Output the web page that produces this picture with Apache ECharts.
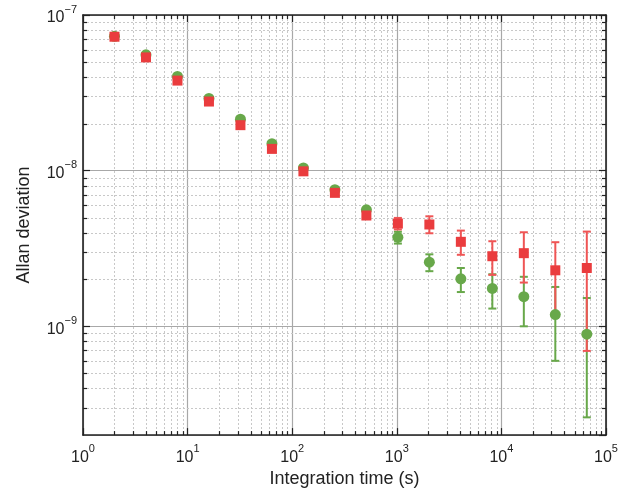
<!DOCTYPE html>
<html>
<head>
<meta charset="utf-8">
<script src="https://cdn.jsdelivr.net/npm/echarts@6/dist/echarts.min.js"></script>
<style>
html,body{margin:0;padding:0;background:#fff;}
#chart{width:634px;height:493px;}
</style>
</head>
<body>
<div id="chart"></div>
<script>
// Integration times (s)
const tau = [2, 4, 8, 16, 32, 64, 128, 256, 512, 1024, 2048, 4096, 8192, 16384, 32768, 65536];
// Green series (circles)
const greenVal = [7.3e-8, 5.55e-8, 4.03e-8, 2.91e-8, 2.14e-8, 1.49e-8, 1.04e-8, 7.55e-9, 5.6e-9, 3.73e-9, 2.58e-9, 2.02e-9, 1.75e-9, 1.55e-9, 1.19e-9, 8.9e-10];
const greenLow = [null, null, null, null, null, null, null, null, null, 3.4e-9, 2.26e-9, 1.66e-9, 1.30e-9, 1.0e-9, 6.0e-10, 2.6e-10];
const greenHigh = [null, null, null, null, null, null, null, null, null, 4.05e-9, 2.9e-9, 2.37e-9, 2.16e-9, 2.08e-9, 1.79e-9, 1.52e-9];
// Red series (squares)
const redVal = [7.25e-8, 5.34e-8, 3.79e-8, 2.78e-8, 1.96e-8, 1.38e-8, 9.9e-9, 7.2e-9, 5.15e-9, 4.57e-9, 4.51e-9, 3.49e-9, 2.82e-9, 2.95e-9, 2.29e-9, 2.37e-9];
const redLow = [null, null, null, null, null, null, null, null, null, 4.19e-9, 3.96e-9, 2.88e-9, 2.14e-9, 1.91e-9, 1.15e-9, 6.95e-10];
const redHigh = [null, null, null, null, null, null, null, null, null, 4.97e-9, 5.09e-9, 4.12e-9, 3.52e-9, 4.02e-9, 3.47e-9, 4.06e-9];

// Axis ranges
const xMin = 1, xMax = 1e5;
const yMin = 2e-10, yMax = 1e-7;
const xDecades = [1, 10, 100, 1000, 10000];
const yDecades = [1e-10, 1e-9, 1e-8];
const minorMult = [2, 3, 4, 5, 6, 7, 8, 9];

const GREEN = '#68a84a';
const RED = '#ea3c3e';
const FONT = 'Liberation Sans, Arial, sans-serif';

const minorX = [];
xDecades.forEach(d => minorMult.forEach(m => { const v = d * m; if (v > xMin && v < xMax) minorX.push(v); }));
const minorY = [];
yDecades.forEach(d => minorMult.forEach(m => { const v = d * m; if (v > yMin * 1.0001 && v < yMax) minorY.push(v); }));

function supFmt(value) {
  const e = Math.round(Math.log10(value));
  if (Math.abs(Math.log10(value) - e) > 1e-6) return '';
  return '{b|10}{s|' + (e < 0 ? '\u2212' + (-e) : e) + '}';
}
const richLbl = {
  b: { fontSize: 16, fontFamily: FONT, color: '#222', lineHeight: 22, verticalAlign: 'bottom' },
  s: { fontSize: 11, fontFamily: FONT, color: '#222', lineHeight: 22, verticalAlign: 'top', padding: [0, 0, 10, 0] }
};

function errData(vals, lo, hi) {
  const out = [];
  for (let i = 0; i < tau.length; i++) if (lo[i] != null) out.push([tau[i], lo[i], hi[i]]);
  return out;
}

function errRender(color, width) {
  return function (params, api) {
    const x = api.value(0);
    const p1 = api.coord([x, api.value(1)]);
    const p2 = api.coord([x, api.value(2)]);
    const cap = 4;
    const st = { stroke: color, lineWidth: width };
    return {
      type: 'group',
      children: [
        { type: 'line', shape: { x1: p1[0], y1: p1[1], x2: p2[0], y2: p2[1] }, style: st },
        { type: 'line', shape: { x1: p1[0] - cap, y1: p1[1], x2: p1[0] + cap, y2: p1[1] }, style: st },
        { type: 'line', shape: { x1: p2[0] - cap, y1: p2[1], x2: p2[0] + cap, y2: p2[1] }, style: st }
      ]
    };
  };
}

function minorRender(params, api) {
  const cs = params.coordSys;
  const L = cs.x, T = cs.y, R = cs.x + cs.width, B = cs.y + cs.height;
  const children = [];
  const gridStyle = { stroke: '#c8c8c8', lineWidth: 1, lineDash: [2, 2] };
  const tickStyle = { stroke: '#222', lineWidth: 1.2 };
  minorX.forEach(v => {
    const x = Math.round(api.coord([v, 1e-8])[0]) + 0.5;
    children.push({ type: 'line', shape: { x1: x, y1: T, x2: x, y2: B }, style: gridStyle });
    children.push({ type: 'line', shape: { x1: x, y1: B, x2: x, y2: B - 4 }, style: tickStyle });
    children.push({ type: 'line', shape: { x1: x, y1: T, x2: x, y2: T + 4 }, style: tickStyle });
  });
  minorY.forEach(v => {
    const y = Math.round(api.coord([10, v])[1]) + 0.5;
    children.push({ type: 'line', shape: { x1: L, y1: y, x2: R, y2: y }, style: gridStyle });
    children.push({ type: 'line', shape: { x1: L, y1: y, x2: L + 4, y2: y }, style: tickStyle });
    children.push({ type: 'line', shape: { x1: R, y1: y, x2: R - 4, y2: y }, style: tickStyle });
  });
  return { type: 'group', children: children };
}

const axisLineStyle = { color: '#222', width: 1.6 };
const chart = echarts.init(document.getElementById('chart'), null, { renderer: 'canvas' });
chart.setOption({
  animation: false,
  backgroundColor: '#fff',
  grid: { left: 83, right: 28, top: 15, bottom: 57, containLabel: false },
  xAxis: [
    {
      type: 'log', logBase: 10, min: xMin, max: xMax, position: 'bottom',
      name: 'Integration time (s)', nameLocation: 'middle', nameGap: 33,
      nameTextStyle: { fontSize: 18, color: '#222', fontFamily: FONT },
      axisLine: { show: true, onZero: false, lineStyle: axisLineStyle },
      axisTick: { show: true, inside: true, length: 7, lineStyle: { color: '#222', width: 1.2 } },
      axisLabel: { formatter: supFmt, rich: richLbl, margin: 8, showMinLabel: true, showMaxLabel: true },
      splitLine: { show: true, lineStyle: { color: '#a8a8a8', width: 1.2 } },
      minorTick: { show: false }
    },
    {
      type: 'log', logBase: 10, min: xMin, max: xMax, position: 'top',
      axisLine: { show: true, onZero: false, lineStyle: axisLineStyle },
      axisTick: { show: true, inside: true, length: 7, lineStyle: { color: '#222', width: 1.2 } },
      axisLabel: { show: false }, splitLine: { show: false }
    }
  ],
  yAxis: [
    {
      type: 'log', logBase: 10, min: yMin, max: yMax, position: 'left',
      name: 'Allan deviation', nameLocation: 'middle', nameGap: 50,
      nameTextStyle: { fontSize: 18, color: '#222', fontFamily: FONT },
      axisLine: { show: true, onZero: false, lineStyle: axisLineStyle },
      axisTick: { show: true, inside: true, length: 7, lineStyle: { color: '#222', width: 1.2 } },
      axisLabel: { formatter: supFmt, rich: richLbl, margin: 6, showMinLabel: false },
      splitLine: { show: true, lineStyle: { color: '#a8a8a8', width: 1.2 } }
    },
    {
      type: 'log', logBase: 10, min: yMin, max: yMax, position: 'right',
      axisLine: { show: true, onZero: false, lineStyle: axisLineStyle },
      axisTick: { show: true, inside: true, length: 7, lineStyle: { color: '#222', width: 1.2 } },
      axisLabel: { show: false }, splitLine: { show: false }
    }
  ],
  series: [
    { type: 'custom', renderItem: minorRender, data: [[10, 1e-8]], xAxisIndex: 0, yAxisIndex: 0, z: 0, silent: true },
    { type: 'custom', renderItem: errRender(GREEN, 2), data: errData(greenVal, greenLow, greenHigh), xAxisIndex: 0, yAxisIndex: 0, z: 2, encode: { x: 0, y: [1, 2] } },
    { type: 'custom', renderItem: errRender('#ef5555', 2), data: errData(redVal, redLow, redHigh), xAxisIndex: 0, yAxisIndex: 0, z: 3, encode: { x: 0, y: [1, 2] } },
    { type: 'scatter', symbol: 'circle', symbolSize: 11, itemStyle: { color: GREEN, opacity: 1 }, data: tau.map((t, i) => [t, greenVal[i]]), z: 4 },
    { type: 'scatter', symbol: 'rect', symbolSize: 10, itemStyle: { color: RED, opacity: 1 }, data: tau.map((t, i) => [t, redVal[i]]), z: 5 }
  ]
});
</script>
</body>
</html>
